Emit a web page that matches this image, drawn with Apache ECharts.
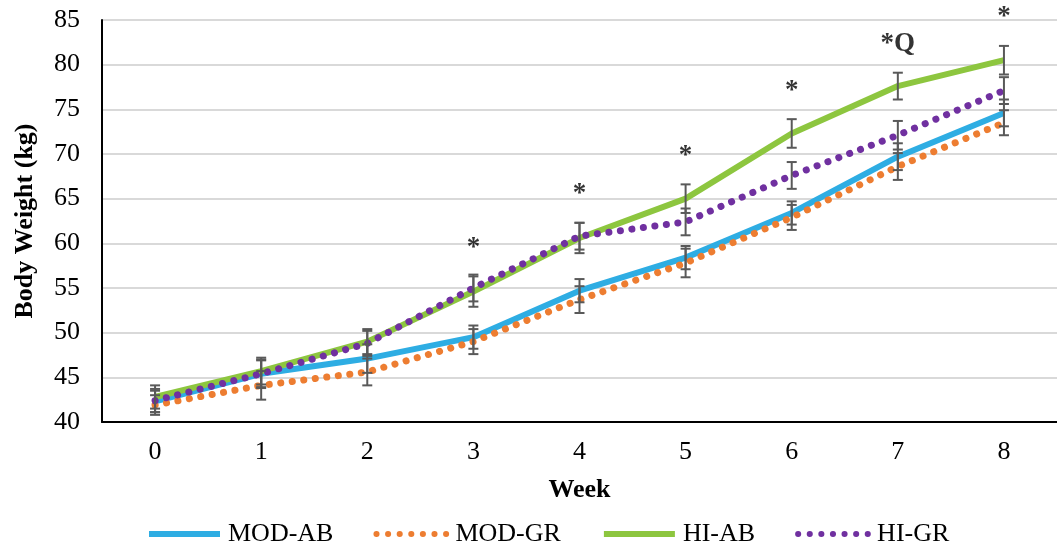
<!DOCTYPE html>
<html><head><meta charset="utf-8">
<script src="https://cdn.jsdelivr.net/npm/echarts@6/dist/echarts.min.js"></script>
<style>html,body{margin:0;padding:0;background:#fff}#c{width:1057px;height:544px}</style>
</head><body><div id="c"></div>
<script>
var weeks = ['0','1','2','3','4','5','6','7','8'];
var modAB = [42.3, 45.4, 47.1, 49.5, 54.7, 58.4, 63.4, 69.7, 74.6];
var modGR = [41.9, 44.1, 45.6, 49.0, 53.7, 57.8, 62.9, 68.6, 73.5];
var hiAB  = [42.8, 45.7, 49.0, 54.6, 60.6, 65.0, 72.3, 77.6, 80.5];
var hiGR  = [42.4, 45.4, 48.8, 55.0, 60.8, 62.4, 67.6, 72.1, 77.1];
var errModAB = [1.2, 1.5, 1.6, 1.3, 1.3, 1.3, 1.3, 1.5, 1.5];
var errModGR = [1.1, 1.6, 1.5, 1.4, 1.5, 1.6, 1.4, 1.5, 1.4];
var errHiAB  = [1.3, 1.5, 1.4, 1.7, 1.7, 1.6, 1.6, 1.5, 1.6];
var errHiGR  = [1.3, 1.6, 1.4, 1.5, 1.5, 1.5, 1.5, 1.6, 1.5];
var annot = ['', '', '', '*', '*', '*', '*', '*Q', '*'];
var yTicks = [40, 45, 50, 55, 60, 65, 70, 75, 80, 85];

var FONT = '"Liberation Serif", "Times New Roman", serif';
var chart = echarts.init(document.getElementById('c'));

function errData(vals, errs) {
  return vals.map(function (v, i) { return [i, v - errs[i], v + errs[i]]; });
}
function errSeries(name, vals, errs) {
  return {
    type: 'custom', name: name + ' err', z: 5, silent: true,
    data: errData(vals, errs),
    encode: { x: 0, y: [1, 2] },
    renderItem: function (params, api) {
      var x = api.value(0);
      var lo = api.coord([x, api.value(1)]);
      var hi = api.coord([x, api.value(2)]);
      var cw = 5;
      var st = { stroke: '#595959', lineWidth: 2 };
      return { type: 'group', children: [
        { type: 'line', shape: { x1: lo[0], y1: lo[1], x2: hi[0], y2: hi[1] }, style: st },
        { type: 'line', shape: { x1: lo[0] - cw, y1: lo[1], x2: lo[0] + cw, y2: lo[1] }, style: st },
        { type: 'line', shape: { x1: hi[0] - cw, y1: hi[1], x2: hi[0] + cw, y2: hi[1] }, style: st }
      ]};
    }
  };
}
var dotted = { type: [0.1, 11.5], cap: 'round', width: 7 };
function legItem(name, w) {
  return { name: name, itemStyle: { opacity: 0 }, lineStyle: { width: w } };
}

chart.setOption({
  animation: false,
  backgroundColor: '#fff',
  grid: { left: 102, right: -11, top: 20, bottom: 122 },
  legend: {
    data: [legItem('MOD-AB', 6), legItem('MOD-GR', 6), legItem('HI-AB', 6), legItem('HI-GR', 6)],
    top: 516, left: 141, itemWidth: 71, itemHeight: 14, itemGap: 40,
    textStyle: { fontFamily: FONT, fontSize: 26, color: '#000', padding: [0, 0, 0, 3] }
  },
  xAxis: {
    type: 'category', data: weeks, boundaryGap: true,
    name: 'Week', nameLocation: 'middle', nameGap: 55,
    nameTextStyle: { fontFamily: FONT, fontSize: 26, fontWeight: 'bold', color: '#000' },
    axisLine: { lineStyle: { color: '#000', width: 2 } },
    axisTick: { show: false },
    axisLabel: { fontFamily: FONT, fontSize: 26, color: '#000', margin: 17 }
  },
  yAxis: {
    type: 'value', min: 40, max: 85, interval: 5,
    name: 'Body Weight (kg)', nameLocation: 'middle', nameGap: 64,
    nameTextStyle: { fontFamily: FONT, fontSize: 26, fontWeight: 'bold', color: '#000' },
    axisLine: { show: true, lineStyle: { color: '#000', width: 2 } },
    axisTick: { show: false },
    splitLine: { lineStyle: { color: '#d9d9d9', width: 2 } },
    axisLabel: { fontFamily: FONT, fontSize: 26, color: '#000', margin: 22,
      formatter: function (v) { return yTicks.indexOf(v) >= 0 ? String(v) : ''; } }
  },
  series: [
    { name: 'MOD-AB', type: 'line', data: modAB, showSymbol: false, symbol: 'none', z: 3,
      itemStyle: { color: '#2EADE3' }, lineStyle: { color: '#2EADE3', width: 6 } },
    { name: 'MOD-GR', type: 'line', data: modGR, showSymbol: false, symbol: 'none', z: 3,
      itemStyle: { color: '#ED7D31' }, lineStyle: Object.assign({ color: '#ED7D31' }, dotted) },
    { name: 'HI-AB', type: 'line', data: hiAB, showSymbol: false, symbol: 'none', z: 3,
      itemStyle: { color: '#8DC63F' }, lineStyle: { color: '#8DC63F', width: 6 } },
    { name: 'HI-GR', type: 'line', data: hiGR, showSymbol: false, symbol: 'none', z: 4,
      itemStyle: { color: '#7030A0' }, lineStyle: Object.assign({ color: '#7030A0' }, dotted) },
    errSeries('MOD-AB', modAB, errModAB),
    errSeries('MOD-GR', modGR, errModGR),
    errSeries('HI-AB', hiAB, errHiAB),
    errSeries('HI-GR', hiGR, errHiGR),
    { name: 'annot', type: 'scatter', symbolSize: 0, silent: true, z: 6,
      data: hiAB.map(function (v, i) { return [i, v + errHiAB[i]]; }),
      label: { show: true, position: 'top', distance: 15,
        fontFamily: FONT, fontSize: 27, fontWeight: 'bold', color: '#000',
        formatter: function (p) { return annot[p.dataIndex]; } } }
  ]
});
</script></body></html>
